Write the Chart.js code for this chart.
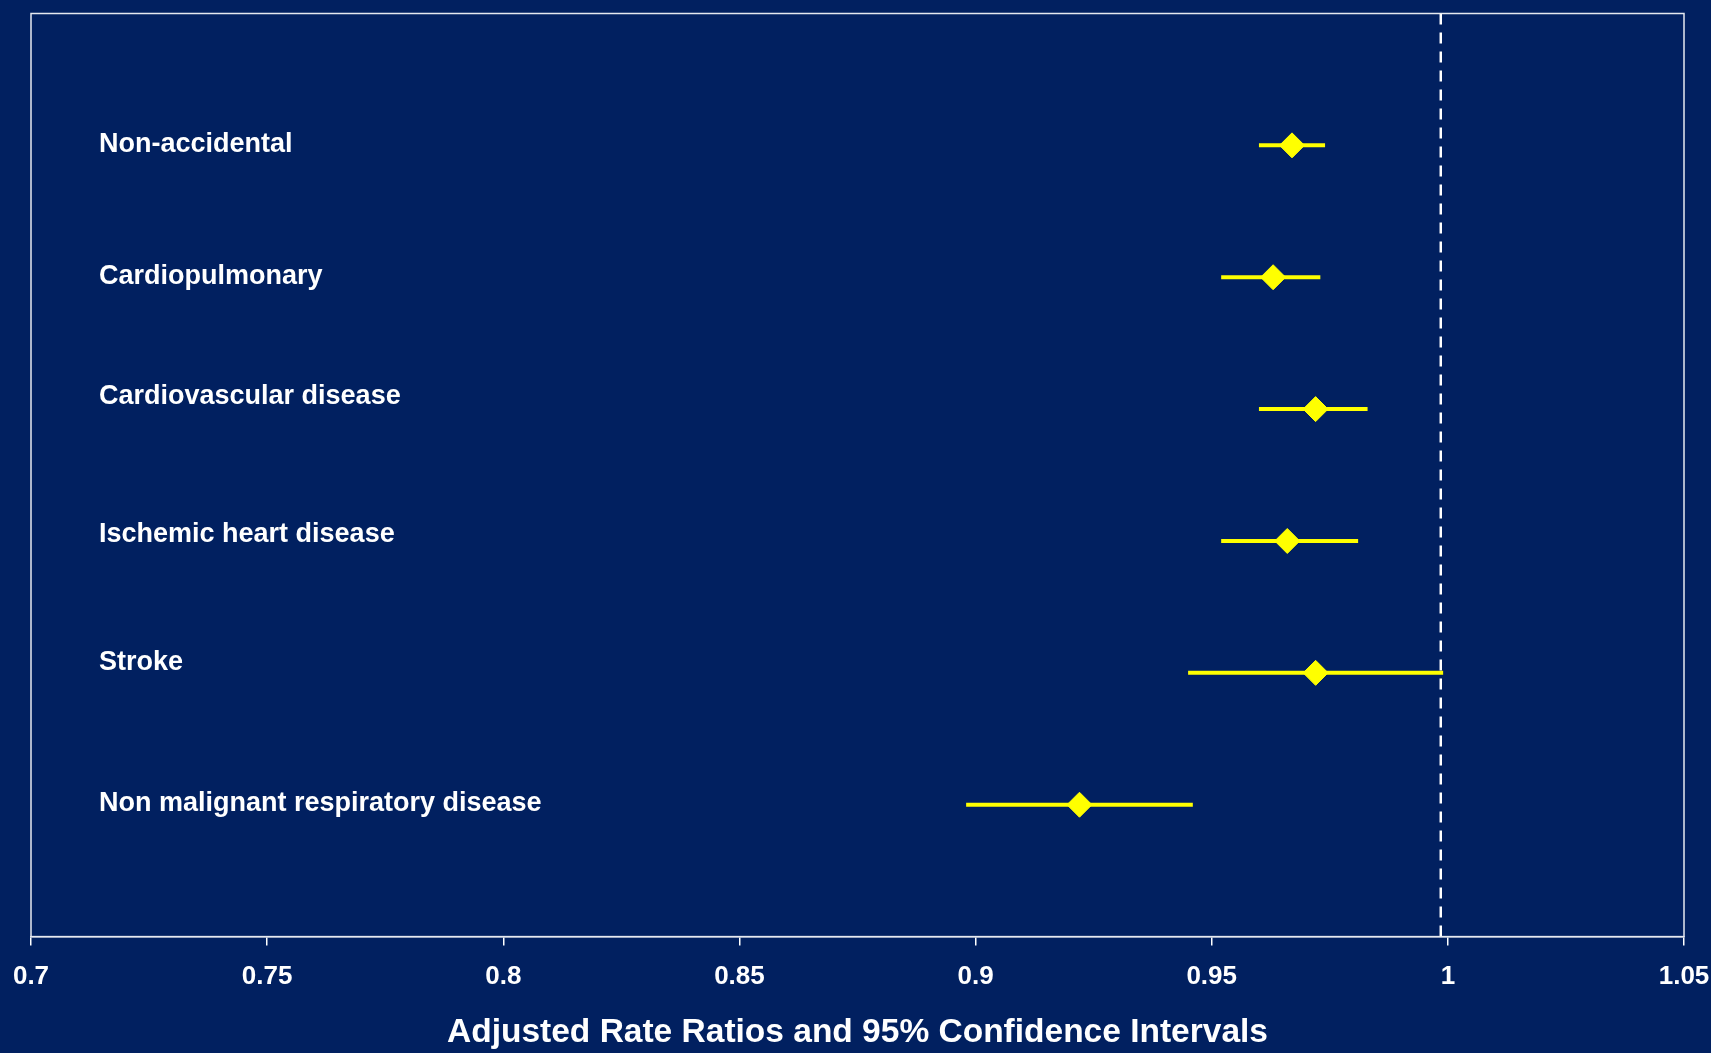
<!DOCTYPE html>
<html>
<head>
<meta charset="utf-8">
<script src="https://cdn.jsdelivr.net/npm/chart.js@4.4.0/dist/chart.umd.min.js"></script>
<style>
  html, body { margin: 0; padding: 0; background: #012060; }
  canvas { display: block; }
</style>
</head>
<body>
<canvas id="forestChart" width="1711" height="1053"></canvas>
<script>
// categories, top to bottom
const categories = [
  'Non-accidental',
  'Cardiopulmonary',
  'Cardiovascular disease',
  'Ischemic heart disease',
  'Stroke',
  'Non malignant respiratory disease'
];
// adjusted rate ratios and 95% CI
const estimates = [0.967, 0.963, 0.972, 0.966, 0.972, 0.922];
const lowerCI   = [0.960, 0.952, 0.960, 0.952, 0.945, 0.898];
const upperCI   = [0.974, 0.973, 0.983, 0.981, 0.999, 0.946];
// dashed "no effect" line (sits just left of the 1 tick in the original)
const refLine = 0.9985;

const xTicks      = [0.7, 0.75, 0.8, 0.85, 0.9, 0.95, 1, 1.05];
const xTickLabels = ['0.7', '0.75', '0.8', '0.85', '0.9', '0.95', '1', '1.05'];
const xTitle = 'Adjusted Rate Ratios and 95% Confidence Intervals';

const NAVY = '#012060';
const YELLOW = '#FFFF00';
const FONT = '"Liberation Sans", Arial, Helvetica, sans-serif';

const rowY = i => categories.length - i;

// background + plot frame + category labels
const forestPlugin = {
  id: 'forestDeco',
  beforeDraw(chart) {
    const ctx = chart.ctx;
    ctx.save();
    ctx.fillStyle = NAVY;
    ctx.fillRect(0, 0, chart.width, chart.height);
    ctx.restore();
  },
  beforeDatasetsDraw(chart) {
    const { ctx, chartArea: a } = chart;
    ctx.save();
    ctx.strokeStyle = '#e6e9f0';
    ctx.lineWidth = 1.5;
    ctx.strokeRect(a.left, a.top, a.right - a.left, a.bottom - a.top);
    ctx.restore();
  },
  afterDatasetsDraw(chart) {
    const { ctx, chartArea: a, scales } = chart;
    // labels in the original sit a little off their rows
    const nudge = [-3, -3, -15, -9, -13, -4];
    ctx.save();
    ctx.fillStyle = '#ffffff';
    ctx.font = 'bold 27px ' + FONT;
    ctx.textAlign = 'left';
    ctx.textBaseline = 'alphabetic';
    categories.forEach((c, i) => {
      const y = scales.y.getPixelForValue(rowY(i)) + nudge[i] + 10;
      ctx.fillText(c, a.left + 68, y);
    });
    ctx.restore();
  }
};

const ciSets = categories.map((c, i) => ({
  label: c + ' CI',
  data: [{ x: lowerCI[i], y: rowY(i) }, { x: upperCI[i], y: rowY(i) }],
  showLine: true,
  borderColor: YELLOW,
  borderWidth: 4,
  pointRadius: 0,
  order: 1
}));

const ctx = document.getElementById('forestChart');
new Chart(ctx, {
  type: 'scatter',
  data: {
    datasets: [
      {
        label: 'Rate ratio',
        data: categories.map((c, i) => ({ x: estimates[i], y: rowY(i) })),
        pointStyle: 'rectRot',
        pointRadius: 12.5,
        backgroundColor: YELLOW,
        borderColor: YELLOW,
        borderWidth: 1,
        order: 0
      },
      ...ciSets,
      {
        label: 'Reference',
        data: [{ x: refLine, y: 0 }, { x: refLine, y: categories.length + 1 }],
        showLine: true,
        borderColor: '#ffffff',
        borderWidth: 2.5,
        borderDash: [11, 8],
        pointRadius: 0,
        order: 2
      }
    ]
  },
  options: {
    responsive: false,
    animation: false,
    devicePixelRatio: 1,
    layout: { padding: { left: 31, right: 27, top: 12, bottom: 0 } },
    plugins: {
      legend: { display: false },
      tooltip: { enabled: false }
    },
    scales: {
      x: {
        type: 'linear',
        min: 0.7,
        max: 1.05,
        afterBuildTicks: axis => { axis.ticks = xTicks.map(v => ({ value: v })); },
        // edge labels fit inside the layout padding, no extra side space
        afterFit: axis => { axis.paddingLeft = 0; axis.paddingRight = 0; },
        ticks: {
          color: '#ffffff',
          font: { family: FONT, size: 26, weight: 'bold' },
          padding: 15.5,
          maxRotation: 0,
          autoSkip: false,
          callback: (v, i) => xTickLabels[i]
        },
        grid: {
          drawOnChartArea: false,
          drawTicks: true,
          tickLength: 9,
          color: '#ffffff',
          lineWidth: 1.5
        },
        border: { display: true, color: '#e6e9f0', width: 1.5 },
        title: {
          display: true,
          text: xTitle,
          color: '#ffffff',
          font: { family: FONT, size: 33.5, weight: 'bold' },
          padding: { top: 5, bottom: 0 }
        }
      },
      y: {
        type: 'linear',
        display: false,
        min: 0,
        max: categories.length + 1
      }
    }
  },
  plugins: [forestPlugin]
});
</script>
</body>
</html>
